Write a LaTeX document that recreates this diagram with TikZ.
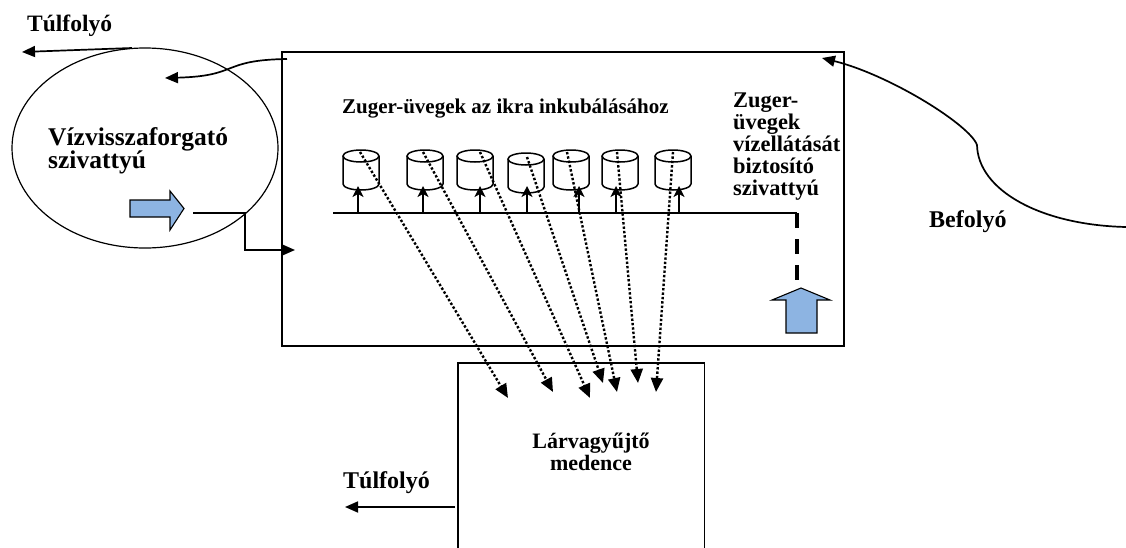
\documentclass[tikz,border=0pt]{standalone}
\usepackage{fontspec}
\setmainfont{Liberation Serif}
\usetikzlibrary{arrows.meta,shapes.geometric}
\definecolor{arrowblue}{RGB}{141,180,226}
\begin{document}
\begin{tikzpicture}[x=1pt,y=-1pt,
  wall/.style={draw,line width=1.5pt,inner sep=0pt},
  flow/.style={line width=1.7pt,-{Triangle[length=13pt,width=11pt]}},
  feed/.style={line width=1.6pt,-{Stealth[length=11pt,width=11pt,inset=3pt]}},
  drip/.style={line width=2.4pt,dash pattern=on 2.4pt off 2pt,-{Triangle[length=14pt,width=12pt]}},
  glass/.style={line width=1.5pt},
  txt/.style={font=\bfseries\fontsize{#1}{#1}\selectfont,inner sep=0pt},
  bluearr/.style={fill=arrowblue,draw=black,line width=1.1pt}]
\useasboundingbox (0,0) rectangle (1126,547);

% incubation tank, recirculation pump, larva pool
\node[wall,minimum width=562pt,minimum height=294pt] (tank) at (563,199) {};
\node[draw,ellipse,line width=1.2pt,minimum width=266pt,minimum height=200pt] (pump) at (145,148) {};
\node[minimum width=246pt,minimum height=200pt,inner sep=0pt,anchor=north west] (pool) at (458,363) {};
\draw[line width=1.5pt] (pool.south west) -- (pool.north west) -- (pool.north east) -- (pool.south east);

% labels
\node[txt=23.5,anchor=base west] (ovtop) at (27,31) {Túlfolyó};
\node[txt=25.5,anchor=base west] (pumpA) at (48,145) {Vízvisszaforgató};
\node[txt=25.5,anchor=base west] (pumpB) at (48,168) {szivattyú};
\node[txt=21,anchor=base west] (glasses) at (342,113) {Zuger-üvegek az ikra inkubálásához};
\node[txt=22.4,anchor=base west] (feedA) at (733,107) {Zuger-};
\node[txt=22.4,anchor=base west] (feedB) at (733,129) {üvegek};
\node[txt=22.4,anchor=base west] (feedC) at (733,151) {vízellátását};
\node[txt=22.4,anchor=base west] (feedD) at (733,173) {biztosító};
\node[txt=22.4,anchor=base west] (feedE) at (733,195) {szivattyú};
\node[txt=24,anchor=base west] (inflow) at (929,227) {Befolyó};
\node[txt=22,anchor=base] (poolA) at (591,448) {Lárvagyűjtő};
\node[txt=22,anchor=base] (poolB) at (591,470) {medence};
\node[txt=24,anchor=base west] (ovbot) at (343,488) {Túlfolyó};

% Zuger glasses
\foreach \i/\cx/\ct in {1/361/150,2/425/150,3/475/150,4/526/153,5/571/150,6/620/150,7/673/150} {
  \draw[glass] (\cx-18,\ct+6) -- (\cx-18,\ct+34) arc[start angle=180,end angle=0,x radius=18,y radius=6] -- (\cx+18,\ct+6);
  \draw[glass] (\cx,\ct+6) ellipse [x radius=18,y radius=6];
}

% blue pump arrows
\draw[bluearr] (130,200) -- (170,200) -- (170,191) -- (184,208.5) -- (170,230) -- (170,217) -- (130,217) -- cycle;
\draw[bluearr] (786,333) -- (786,300) -- (772,300) -- (801,288) -- (830,300) -- (817,300) -- (817,333) -- cycle;

% distribution pipe
\coordinate (pipeL) at (333,213);
\coordinate (pipeR) at (797,213);
\coordinate (pipeD) at (797,281);
\draw[line width=1.6pt] (pipeL) -- (pipeR);
\draw[line width=3.2pt,dash pattern=on 15pt off 11pt] (pipeR) -- (pipeD);
\foreach \i/\ax in {1/358,2/423,3/480,4/527,5/579,6/616,7/679} {
  \coordinate (up\i) at (\ax,213);
  \coordinate (in\i) at (\ax,186);
  \draw[feed] (up\i) -- (in\i);
}

% larvae drifting into the pool
\foreach \i/\sx/\sy/\tx/\ty in {1/360/152/508/398,2/423/152/553/392,3/480/152/590/398,4/527/157/603/383,5/567/152/617/392,6/617/152/638/383,7/673/152/656/392} {
  \coordinate (top\i) at (\sx,\sy);
  \coordinate (drop\i) at (\tx,\ty);
  \draw[drip] (top\i) -- (drop\i);
}

% overflow and return lines
\coordinate (ovA) at (132,48);
\coordinate (ovB) at (22,52);
\draw[flow] (ovA) -- (ovB);
\coordinate (retA) at (287,59);
\coordinate (retB) at (165,78);
\draw[flow] (retA) .. controls (220,60) and (240,76) .. (retB);
\coordinate (outA) at (193,213);
\coordinate (outB) at (295,250);
\draw[flow] (outA) -- (245,213) -- (245,250) -- (outB);
\coordinate (inA) at (1126,227);
\coordinate (inM) at (977,145);
\coordinate (inB) at (822,58);
\draw[flow] (inA) .. controls (1040,225) and (978,190) .. (inM) .. controls (970,125) and (890,75) .. (inB);
\coordinate (obA) at (455,507);
\coordinate (obB) at (345,507);
\draw[flow] (obA) -- (obB);
\end{tikzpicture}
\end{document}
